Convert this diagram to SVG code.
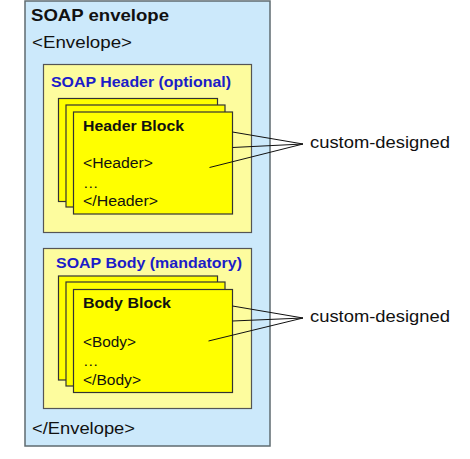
<svg xmlns="http://www.w3.org/2000/svg" width="470" height="459" viewBox="0 0 470 459">
<style>
.env{fill:#cce9fb;stroke:#5f6b70;stroke-width:1.5}
.cont{fill:#fdfc9e;stroke:#555;stroke-width:1.2}
.blk{fill:#ffff00;stroke:#333;stroke-width:1.2}
text{font-family:"Liberation Sans",Arial,sans-serif;fill:#111}
.b{font-weight:bold}
.blue{fill:#1c1cc8;font-weight:bold}
.ln{stroke:#111;stroke-width:1;fill:none}
</style>
<rect width="470" height="459" fill="#fff"/>
<g id="envelope">
<rect class="env" x="25" y="1" width="245" height="445"/>
<text class="b" x="31" y="21" font-size="17" textLength="138" lengthAdjust="spacingAndGlyphs">SOAP envelope</text>
<text x="32" y="48" font-size="17" textLength="100" lengthAdjust="spacingAndGlyphs">&lt;Envelope&gt;</text>
<text x="32" y="434" font-size="17" textLength="103" lengthAdjust="spacingAndGlyphs">&lt;/Envelope&gt;</text>
</g>
<g id="soap-header">
<rect class="cont" x="43.5" y="64.5" width="208" height="168"/>
<text class="blue" x="51" y="87" font-size="15" textLength="180" lengthAdjust="spacingAndGlyphs">SOAP Header (optional)</text>
</g>
<g id="header-block">
<rect class="blk" x="58.5" y="98.5" width="159" height="103"/>
<rect class="blk" x="66" y="105" width="159" height="102"/>
<rect class="blk" x="73.5" y="112" width="159" height="102"/>
<text class="b" x="83" y="131" font-size="15.5" textLength="101" lengthAdjust="spacingAndGlyphs">Header Block</text>
<text x="83" y="168" font-size="15.5" textLength="70" lengthAdjust="spacingAndGlyphs">&lt;Header&gt;</text>
<text x="83" y="188" font-size="15.5">…</text>
<text x="83" y="206" font-size="15.5" textLength="75" lengthAdjust="spacingAndGlyphs">&lt;/Header&gt;</text>
</g>
<g id="soap-body">
<rect class="cont" x="43.5" y="248.5" width="208" height="160"/>
<text class="blue" x="56" y="268" font-size="15" textLength="186" lengthAdjust="spacingAndGlyphs">SOAP Body (mandatory)</text>
</g>
<g id="body-block">
<rect class="blk" x="58.5" y="276" width="159" height="104"/>
<rect class="blk" x="66" y="282" width="159" height="104"/>
<rect class="blk" x="73.5" y="289.5" width="159" height="103"/>
<text class="b" x="83" y="308" font-size="15.5" textLength="88" lengthAdjust="spacingAndGlyphs">Body Block</text>
<text x="83" y="347" font-size="15.5" textLength="53" lengthAdjust="spacingAndGlyphs">&lt;Body&gt;</text>
<text x="83" y="366" font-size="15.5">…</text>
<text x="83" y="385" font-size="15.5" textLength="58" lengthAdjust="spacingAndGlyphs">&lt;/Body&gt;</text>
</g>
<g id="label-header">
<text x="310" y="148" font-size="17" textLength="140" lengthAdjust="spacingAndGlyphs">custom-designed</text>
</g>
<g id="label-body">
<text x="310" y="322" font-size="17" textLength="140" lengthAdjust="spacingAndGlyphs">custom-designed</text>
</g>
<g id="connectors">
<path class="ln" d="M232.5,132 L303,144 M232.5,147.5 L303,144 M209.5,167.5 L303,144"/>
<path class="ln" d="M232.5,306 L303,318 M232.5,321 L303,318 M208.5,341 L303,318"/>
</g>
</svg>
